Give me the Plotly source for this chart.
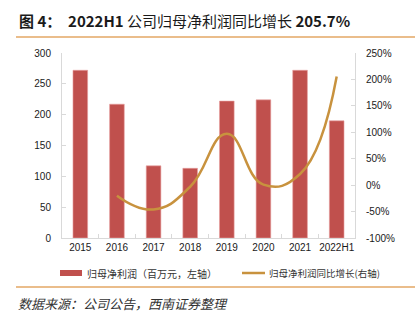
import plotly.graph_objects as go

categories = ["2015", "2016", "2017", "2018", "2019", "2020", "2021", "2022H1"]
profit = [272, 217, 117, 113, 222, 224, 272, 190]
growth_cats = ["2016", "2017", "2018", "2019", "2020", "2021", "2022H1"]
growth = [-20, -46, -3, 97, 1, 21, 205.7]
left_ticks = [0, 50, 100, 150, 200, 250, 300]
right_ticks = [-100, -50, 0, 50, 100, 150, 200, 250]
right_labels = [f"{v}%" for v in right_ticks]

BAR = "#C0504D"
LINE = "#C8923E"
SEP = "#E3A765"
AX = "#D9D9D9"
TXT = "#1a1a1a"
CJK = "Noto Sans CJK SC"
LAT = "Liberation Sans, Arial, sans-serif"

fig = go.Figure()
fig.add_trace(go.Bar(x=categories, y=profit, marker=dict(color=BAR, line=dict(color="#E8A0A0", width=0.6)),
                     width=0.4, name="归母净利润（百万元，左轴）", showlegend=False))
fig.add_trace(go.Scatter(x=growth_cats, y=growth, mode="lines", yaxis="y2",
                         line=dict(color=LINE, width=2.5, shape="spline", smoothing=1.3),
                         name="归母净利润同比增长(右轴)", showlegend=False))

W, H = 419, 322
L, R, T, B = 62, 64, 53, 84
fig.update_layout(
    width=W, height=H, margin=dict(l=L, r=R, t=T, b=B),
    paper_bgcolor="white", plot_bgcolor="white",
    xaxis=dict(type="category", categoryorder="array", categoryarray=categories,
               showline=True, linecolor=AX, linewidth=1, ticks="inside", tickson="boundaries",
               ticklen=4, tickcolor=AX, tickangle=0, tickfont=dict(family=LAT, size=10, color=TXT),
               showgrid=False, zeroline=False),
    yaxis=dict(range=[0, 300], tickvals=left_ticks, showline=True, linecolor=AX, linewidth=1,
               ticks="inside", ticklen=4, tickcolor=AX, showgrid=False, zeroline=False,
               tickfont=dict(family=LAT, size=10, color=TXT), ticklabelstandoff=8),
    yaxis2=dict(range=[-100, 250], tickvals=right_ticks, ticktext=right_labels, overlaying="y",
                side="right", showline=True, linecolor=AX, linewidth=1, ticks="inside",
                ticklen=4, tickcolor=AX, showgrid=False, zeroline=False,
                tickfont=dict(family=LAT, size=10, color=TXT), ticklabelstandoff=8),
)

pw = W - L - R
ph = H - T - B
def fx(p):
    return (p - L) / pw
def fy(p):
    return (238 - p) / ph

shapes = [
    dict(type="line", xref="paper", yref="paper", x0=fx(16), x1=fx(415), y0=fy(37), y1=fy(37),
         line=dict(color=SEP, width=1.5)),
    dict(type="line", xref="paper", yref="paper", x0=fx(16), x1=fx(415), y0=fy(287), y1=fy(287),
         line=dict(color=SEP, width=1.5)),
    dict(type="rect", xref="paper", yref="paper", x0=fx(60), x1=fx(82), y0=fy(276), y1=fy(270),
         fillcolor=BAR, line=dict(width=0)),
    dict(type="line", xref="paper", yref="paper", x0=fx(242), x1=fx(265), y0=fy(273), y1=fy(273),
         line=dict(color=LINE, width=2.5)),
]

annotations = [
    dict(text="<b>图 4：  2022H1</b> 公司归母净利润同比增长 <b>205.7%</b>", xref="paper", yref="paper",
         x=fx(17), y=fy(20), xanchor="left", yanchor="middle", showarrow=False,
         font=dict(family=CJK, size=15, color=TXT)),
    dict(text="归母净利润（百万元，左轴）", xref="paper", yref="paper", x=fx(85), y=fy(273),
         xanchor="left", yanchor="middle", showarrow=False, font=dict(family=CJK, size=10, color="#333")),
    dict(text="归母净利润同比增长(右轴)", xref="paper", yref="paper", x=fx(267), y=fy(273),
         xanchor="left", yanchor="middle", showarrow=False, font=dict(family=CJK, size=9.5, color="#333")),
    dict(text="<i>数据来源：公司公告，西南证券整理</i>", xref="paper", yref="paper", x=fx(16), y=fy(303),
         xanchor="left", yanchor="middle", showarrow=False, font=dict(family=CJK, size=13, color="#333")),
]
fig.update_layout(shapes=shapes, annotations=annotations)
fig.write_html("out.html")
